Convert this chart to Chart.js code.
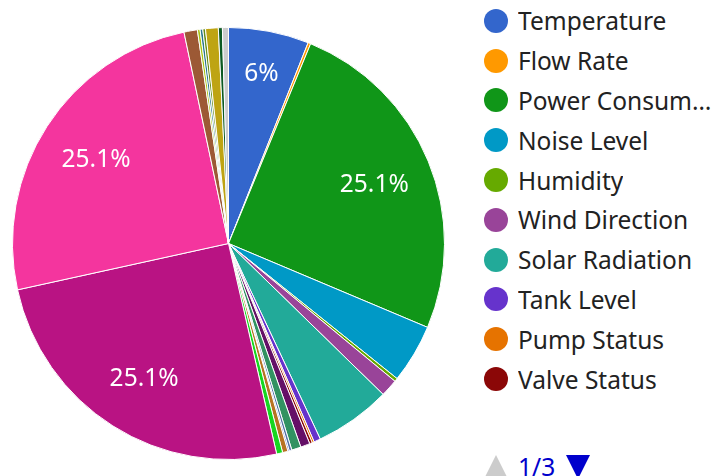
<!DOCTYPE html>
<html>
<head>
<meta charset="utf-8">
<script src="https://cdn.jsdelivr.net/npm/chart.js@4.4.1/dist/chart.umd.min.js"></script>
<style>
    html, body { margin: 0; padding: 0; background: #fff; }
    body { width: 712px; height: 476px; position: relative; overflow: hidden; font-family: "Noto Sans", sans-serif; }
    #pieWrap { position: absolute; left: 12px; top: 27px; width: 433px; height: 433px; }
    #legend { position: absolute; left: 484px; top: 1px; width: 228px; }
    .item { display: flex; align-items: center; height: 39.8px; }
    .dot { width: 24px; height: 24px; border-radius: 50%; flex: none; margin-right: 10px; }
    .name { font-size: 24.5px; color: #222; white-space: nowrap; overflow: hidden; text-overflow: ellipsis; max-width: 194px; }
    #pager { position: absolute; left: 484px; top: 450px; display: flex; align-items: center; font-size: 24.5px; color: #0000cc; }
    .arrow { width: 0; height: 0; border-left: 12px solid transparent; border-right: 12px solid transparent; cursor: pointer; }
    .up { border-bottom: 24px solid #cccccc; margin-right: 10px; }
    .down { border-top: 24px solid #0000cc; margin-left: 11px; }
</style>
</head>
<body>
<div id="pieWrap"><canvas id="pieChart"></canvas></div>
<div id="legend"></div>
<div id="pager"><span class="arrow up" id="prevPage"></span><span id="pageText">1/3</span><span class="arrow down" id="nextPage"></span></div>
<script>
const labels = [
    'Temperature', 'Flow Rate', 'Power Consumption', 'Noise Level', 'Humidity',
    'Wind Direction', 'Solar Radiation', 'Tank Level', 'Pump Status', 'Valve Status',
    'Pressure', 'Voltage', 'Current', 'Vibration', 'pH Level',
    'Rainfall', 'Wind Speed', 'Water Usage', 'Soil Moisture', 'CO2 Level',
    'Light Intensity', 'Battery Level', 'Turbidity', 'Signal Strength', 'Other'
];
const values = [
    6, 0.2, 25.1, 4.4, 0.25,
    1.3, 5.7, 0.5, 0.15, 0.2,
    0.7, 0.7, 0.2, 0.1, 0.4,
    0.45, 25.1, 25.1, 1.0, 0.2,
    0.2, 0.2, 0.95, 0.3, 0.45
];
const colors = [
    '#3366cc', '#ff9900', '#109618', '#0099c6', '#66aa00',
    '#994499', '#22aa99', '#6633cc', '#e67300', '#8b0707',
    '#651067', '#329262', '#5574a6', '#3b3eac', '#b77322',
    '#16d620', '#b91383', '#f4359e', '#9c5935', '#a9c413',
    '#2a778d', '#668d1c', '#bea413', '#0c5922', '#cccccc'
];
const perPage = 10;
let page = 0;
let chart;

function formatPct(v, total) {
    const p = Math.round(v / total * 1000) / 10;
    return (p % 1 === 0 ? p.toFixed(0) : p.toFixed(1)) + '%';
}

// white percentage text inside the slices that are big enough
const sliceText = {
    id: 'sliceText',
    afterDatasetsDraw(c) {
        const ctx = c.ctx;
        const total = values.reduce((a, b) => a + b, 0);
        const arcs = c.getDatasetMeta(0).data;
        ctx.save();
        ctx.fillStyle = '#ffffff';
        ctx.font = '24.5px "Noto Sans"';
        ctx.textAlign = 'center';
        ctx.textBaseline = 'middle';
        arcs.forEach((arc, i) => {
            const pct = values[i] / total * 100;
            if (pct < 5.9) return;
            const mid = (arc.startAngle + arc.endAngle) / 2;
            const r = arc.outerRadius * (pct < 10 ? 0.81 : 0.73);
            ctx.fillText(formatPct(values[i], total), arc.x + Math.cos(mid) * r, arc.y + Math.sin(mid) * r + 2);
        });
        ctx.restore();
    }
};

function initChart() {
    const ctx = document.getElementById('pieChart').getContext('2d');
    chart = new Chart(ctx, {
        type: 'pie',
        data: {
            labels,
            datasets: [{
                data: values,
                backgroundColor: colors,
                borderColor: '#ffffff',
                borderWidth: 1
            }]
        },
        options: {
            responsive: true,
            maintainAspectRatio: false,
            animation: false,
            layout: { padding: 0 },
            plugins: {
                legend: { display: false },
                tooltip: { enabled: true }
            }
        },
        plugins: [sliceText]
    });
}

function renderLegend() {
    const pages = Math.ceil(labels.length / perPage);
    const start = page * perPage;
    document.getElementById('legend').innerHTML = labels.slice(start, start + perPage).map((name, k) => `
        <div class="item"><span class="dot" style="background:${colors[start + k]}"></span><span class="name">${name}</span></div>
    `).join('');
    document.getElementById('pageText').textContent = `${page + 1}/${pages}`;
    document.getElementById('prevPage').style.borderBottomColor = page > 0 ? '#0000cc' : '#cccccc';
    document.getElementById('nextPage').style.borderTopColor = page < pages - 1 ? '#0000cc' : '#cccccc';
}

function setupPager() {
    const pages = Math.ceil(labels.length / perPage);
    document.getElementById('prevPage').addEventListener('click', () => {
        if (page > 0) { page--; renderLegend(); }
    });
    document.getElementById('nextPage').addEventListener('click', () => {
        if (page < pages - 1) { page++; renderLegend(); }
    });
}

document.addEventListener('DOMContentLoaded', () => {
    initChart();
    renderLegend();
    setupPager();
});
</script>
</body>
</html>
